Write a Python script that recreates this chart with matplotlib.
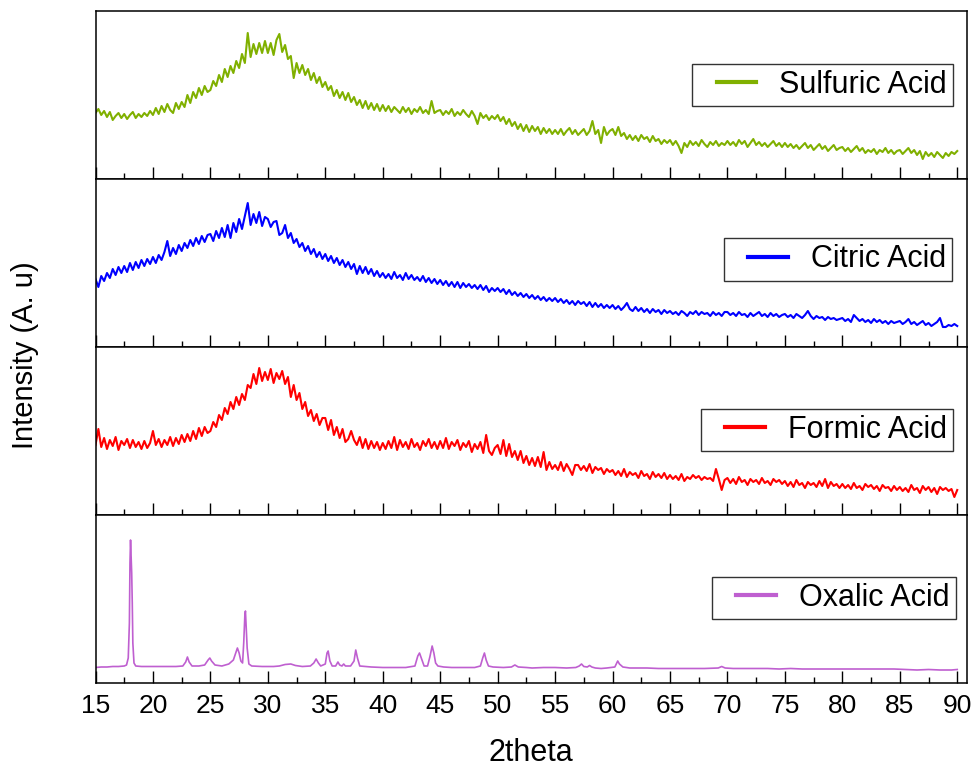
import numpy as np
import matplotlib
matplotlib.use("Agg")
import matplotlib.pyplot as plt
from matplotlib.legend_handler import HandlerLine2D
from matplotlib.ticker import MultipleLocator

plt.rcParams['font.family'] = ['Liberation Sans', 'DejaVu Sans']

# ---------------- data (intensity, arbitrary units) ----------------
two_theta = np.linspace(15, 90, 301)   # 0.25 deg step

sulfuric = [
    66, 70, 64, 68, 62, 67, 59, 63, 66, 61, 65, 60, 64, 67, 61, 65, 62, 66, 63, 68,
    64, 71, 65, 73, 67, 75, 69, 66, 76, 70, 77, 72, 84, 76, 87, 81, 91, 84, 93, 87,
    89, 98, 93, 104, 97, 110, 102, 113, 106, 118, 111, 125, 116, 146, 122, 135, 125, 136, 126, 138,
    126, 136, 124, 139, 145, 127, 134, 120, 123, 101, 116, 106, 114, 104, 110, 99, 106, 96, 102, 92,
    97, 89, 93, 83, 89, 81, 87, 79, 86, 77, 82, 74, 79, 71, 78, 70, 76, 69, 75, 68,
    74, 68, 73, 67, 72, 69, 66, 72, 67, 71, 65, 70, 67, 72, 66, 69, 65, 78, 66, 68,
    69, 64, 68, 65, 70, 63, 67, 64, 69, 65, 62, 68, 63, 55, 66, 61, 64, 59, 63, 60,
    64, 58, 62, 55, 60, 53, 57, 50, 55, 48, 54, 47, 53, 48, 52, 45, 51, 46, 50, 45,
    49, 45, 50, 44, 48, 51, 45, 49, 44, 47, 50, 44, 48, 58, 45, 49, 36, 52, 44, 48,
    50, 44, 52, 43, 46, 40, 44, 39, 43, 38, 44, 40, 42, 37, 43, 38, 40, 35, 39, 36,
    39, 34, 38, 33, 26, 36, 32, 38, 34, 37, 33, 39, 35, 32, 37, 34, 38, 33, 36, 34,
    38, 34, 37, 33, 39, 35, 38, 32, 36, 40, 34, 37, 33, 36, 32, 35, 38, 33, 36, 32,
    36, 32, 35, 31, 34, 30, 33, 36, 31, 34, 29, 32, 35, 30, 33, 28, 31, 34, 29, 31,
    32, 28, 31, 27, 30, 33, 28, 31, 26, 29, 27, 30, 25, 29, 27, 31, 26, 29, 25, 28,
    29, 25, 28, 31, 26, 29, 24, 28, 20, 27, 23, 26, 22, 27, 24, 21, 26, 23, 27, 25,
    28,
]

citric = [
    68, 60, 71, 66, 74, 69, 78, 72, 80, 74, 81, 75, 84, 77, 85, 79, 87, 81, 88, 83,
    90, 84, 92, 87, 95, 106, 91, 99, 93, 102, 96, 104, 99, 107, 101, 109, 103, 111, 105, 112,
    113, 106, 116, 109, 119, 110, 122, 109, 124, 115, 128, 118, 131, 144, 122, 133, 124, 135, 121, 130,
    128, 120, 125, 126, 112, 114, 122, 109, 114, 104, 108, 100, 104, 96, 101, 93, 98, 90, 95, 88,
    93, 86, 91, 84, 89, 82, 87, 80, 85, 78, 83, 73, 81, 74, 80, 73, 78, 71, 76, 70,
    74, 69, 73, 68, 75, 69, 72, 67, 74, 68, 72, 67, 70, 66, 71, 65, 69, 64, 68, 63,
    67, 62, 66, 61, 65, 60, 65, 59, 64, 60, 63, 59, 62, 58, 62, 57, 61, 55, 59, 56,
    59, 55, 58, 53, 57, 52, 55, 51, 54, 50, 53, 49, 52, 48, 51, 47, 50, 46, 49, 46,
    49, 45, 48, 44, 47, 43, 46, 42, 46, 43, 45, 41, 45, 40, 44, 40, 43, 39, 42, 39,
    42, 38, 41, 37, 40, 44, 38, 36, 40, 36, 39, 35, 38, 34, 38, 35, 37, 33, 37, 34,
    36, 33, 35, 32, 36, 34, 31, 35, 33, 36, 32, 35, 33, 34, 31, 35, 32, 34, 31, 35,
    35, 32, 34, 31, 35, 32, 33, 30, 34, 31, 33, 35, 31, 33, 30, 34, 31, 33, 30, 32,
    33, 30, 32, 29, 33, 31, 29, 32, 36, 31, 28, 31, 29, 30, 27, 30, 28, 29, 27, 28,
    29, 26, 28, 25, 32, 29, 26, 28, 25, 27, 24, 28, 25, 27, 24, 26, 23, 26, 24, 25,
    26, 23, 25, 28, 23, 25, 22, 24, 26, 22, 24, 21, 23, 25, 29, 20, 20, 22, 21, 23,
    21,
]

formic = [
    70, 86, 68, 77, 66, 75, 69, 78, 65, 74, 70, 76, 67, 75, 68, 73, 66, 74, 67, 72,
    84, 70, 76, 68, 75, 70, 78, 69, 77, 71, 80, 73, 81, 74, 84, 76, 87, 79, 88, 82,
    84, 93, 88, 100, 95, 107, 101, 113, 106, 118, 110, 121, 115, 130, 127, 141, 131, 147, 134, 143,
    135, 146, 132, 142, 136, 144, 131, 138, 118, 130, 115, 122, 106, 113, 99, 105, 94, 101, 90, 97,
    97, 85, 95, 80, 88, 77, 86, 73, 76, 84, 75, 70, 78, 67, 76, 66, 74, 67, 73, 65,
    72, 66, 74, 67, 78, 65, 75, 68, 73, 66, 76, 68, 72, 65, 74, 69, 76, 67, 73, 66,
    74, 67, 77, 66, 73, 69, 75, 65, 72, 68, 74, 63, 71, 66, 73, 62, 80, 64, 60, 67,
    70, 61, 75, 59, 71, 58, 64, 55, 64, 52, 59, 50, 57, 49, 58, 48, 63, 45, 53, 46,
    50, 45, 53, 44, 51, 46, 40, 50, 50, 45, 49, 44, 51, 42, 48, 45, 47, 41, 46, 43,
    45, 40, 44, 39, 46, 38, 43, 40, 42, 37, 44, 39, 41, 36, 43, 38, 41, 37, 42, 36,
    40, 36, 39, 35, 41, 34, 38, 36, 40, 37, 39, 35, 38, 36, 37, 34, 46, 36, 25, 35,
    37, 32, 36, 31, 38, 33, 35, 30, 36, 33, 35, 31, 37, 32, 34, 30, 36, 33, 35, 31,
    34, 29, 33, 28, 35, 30, 32, 27, 33, 30, 32, 28, 34, 29, 36, 27, 33, 29, 31, 27,
    31, 27, 30, 26, 32, 27, 29, 25, 31, 28, 30, 26, 29, 24, 30, 27, 28, 24, 29, 25,
    28, 24, 27, 23, 30, 25, 27, 22, 29, 25, 28, 23, 27, 21, 28, 25, 27, 24, 26, 18,
    25,
]

oxalic_x = [
    15.0, 15.5, 16.0, 16.5, 17.0, 17.5, 17.7, 17.85, 17.95, 18.0, 18.05, 18.1, 18.15, 18.2, 18.25, 18.35,
    18.5, 19.0, 20.0, 21.0, 22.0, 22.6, 22.85, 23.0, 23.15, 23.4, 24.0, 24.5, 24.8, 24.95, 25.1, 25.4,
    26.0, 26.6, 27.0, 27.2, 27.35, 27.5, 27.65, 27.8, 27.9, 28.0, 28.05, 28.1, 28.2, 28.35, 28.6, 29.5,
    30.5, 31.0, 31.5, 32.0, 32.4, 33.0, 33.7, 34.0, 34.2, 34.4, 34.6, 35.0, 35.15, 35.25, 35.4, 35.6,
    35.9, 36.1, 36.25, 36.45, 36.6, 36.75, 37.2, 37.5, 37.65, 37.8, 38.0, 39.0, 40.0, 41.0, 42.0, 42.8,
    43.05, 43.2, 43.35, 43.6, 43.9, 44.1, 44.3, 44.45, 44.6, 44.8, 45.3, 46.0, 47.0, 48.0, 48.5, 48.7,
    48.85, 49.0, 49.2, 49.6, 50.5, 51.2, 51.5, 51.8, 52.5, 53.0, 54.0, 55.0, 56.0, 56.8, 57.1, 57.3,
    57.5, 57.8, 58.0, 58.2, 58.5, 59.0, 59.5, 60.2, 60.45, 60.6, 60.9, 61.5, 62.0, 63.0, 64.0, 65.0,
    66.0, 67.0, 68.0, 69.2, 69.5, 69.8, 70.5, 71.5, 72.5, 73.5, 74.5, 75.5, 76.5, 77.5, 78.5, 79.5,
    80.5, 81.5, 82.5, 83.5, 84.5, 85.5, 86.5, 87.5, 88.5, 89.5, 90.0,
]
oxalic = [
    15.5, 16, 16, 16.5, 16.5, 17, 18, 25, 60, 120, 143, 125, 110, 80, 40, 20,
    17, 16.5, 16.5, 16.5, 16.5, 17, 21, 26, 21, 17, 17, 18, 23, 25, 22, 18,
    17, 19, 23, 30, 35, 30, 22, 20, 40, 68, 72, 60, 35, 19, 17, 16.5,
    16.5, 17, 18.5, 19, 17.5, 16.5, 17, 20, 24, 20, 17, 19, 30, 32, 22, 17,
    17, 21, 18, 17, 19, 17, 17, 22, 33, 25, 17, 16, 15.5, 15.5, 15.5, 17,
    27, 30, 25, 17, 17, 26, 37, 30, 20, 17, 16, 15.5, 15.5, 15.5, 17, 25,
    30, 23, 17, 16, 15.5, 16, 18, 16, 15.5, 15, 15.5, 15.5, 15, 15.5, 17, 19,
    16.5, 16, 17.5, 16, 15, 14.5, 15, 16, 22, 19, 16, 15, 15, 15, 14.5, 14.5,
    14.5, 14.5, 14.5, 15, 16.5, 15, 14.5, 14.5, 14.5, 14.5, 14, 14.5, 14, 14, 14, 14,
    14, 14, 14, 14, 14, 13.5, 13, 13.5, 13, 13, 13.5,
]

labels = ['Sulfuric Acid', 'Citric Acid', 'Formic Acid', 'Oxalic Acid']
colors = ['#80b000', '#0000ff', '#ff0000', '#bf5fd0']
x_ticks = list(range(15, 91, 5))

series = [(two_theta, sulfuric), (two_theta, citric), (two_theta, formic),
          (oxalic_x, oxalic)]
line_widths = [1.5, 1.5, 1.5, 1.2]
legend_anchor = [(0.984, 0.560), (0.983, 0.521), (0.984, 0.506), (0.987, 0.506)]


class PadHandler(HandlerLine2D):
    """Line handle with some empty space on its left."""
    def __init__(self, lpad=0.46, **kw):
        super().__init__(**kw)
        self.lpad = lpad

    def create_artists(self, legend, orig_handle, xdescent, ydescent, width,
                       height, fontsize, trans):
        arts = super().create_artists(legend, orig_handle, xdescent, ydescent,
                                      width, height, fontsize, trans)
        for a in arts:
            xd = np.asarray(a.get_xdata(), float)
            if len(xd) > 1:
                a.set_xdata(np.linspace(xd[0] + self.lpad * fontsize, xd[-1], len(xd)))
            a.set_linewidth(3.0)
        return arts


fig, axes = plt.subplots(4, 1, figsize=(9.72, 7.67), dpi=100, sharex=True,
                         gridspec_kw=dict(hspace=0))
fig.subplots_adjust(left=95.5 / 972, right=967 / 972, top=1 - 11 / 767,
                    bottom=1 - 683 / 767)

for ax, (xs, ys), lab, col, lw, anc in zip(axes, series, labels, colors,
                                           line_widths, legend_anchor):
    ln, = ax.plot(xs, ys, color=col, lw=lw, label=lab)
    ax.set_xlim(15, 90.85)
    ax.set_ylim(0, 168)
    ax.set_yticks([])
    ax.xaxis.set_major_locator(MultipleLocator(5))
    ax.xaxis.set_minor_locator(MultipleLocator(2.5))
    ax.tick_params(axis='x', which='major', direction='in', length=8.5, width=1.0,
                   top=False, bottom=True, labelsize=19, pad=8)
    ax.tick_params(axis='x', which='minor', direction='in', length=4, width=1.0,
                   top=False, bottom=True)
    for s in ax.spines.values():
        s.set_linewidth(1.1)
        s.set_color('black')
    leg = ax.legend(handles=[ln], loc='center right', bbox_to_anchor=anc,
                    borderaxespad=0, fontsize=22, frameon=True, fancybox=False,
                    edgecolor='#333333', framealpha=1, borderpad=0.2,
                    handlelength=1.9, handletextpad=0.75,
                    handler_map={ln: PadHandler(lpad=0.6)})
    leg.get_frame().set_linewidth(1.0)

axes[-1].set_xticks(x_ticks)
axes[-1].set_xlabel('2theta', fontsize=22, labelpad=14)
for ax in axes[:-1]:
    ax.tick_params(axis='x', labelbottom=False)

fig.text(25 / 972, 1 - 355 / 767, 'Intensity (A. u)', rotation=90, fontsize=21,
         ha='center', va='center')

fig.savefig('out.png', dpi=100)
